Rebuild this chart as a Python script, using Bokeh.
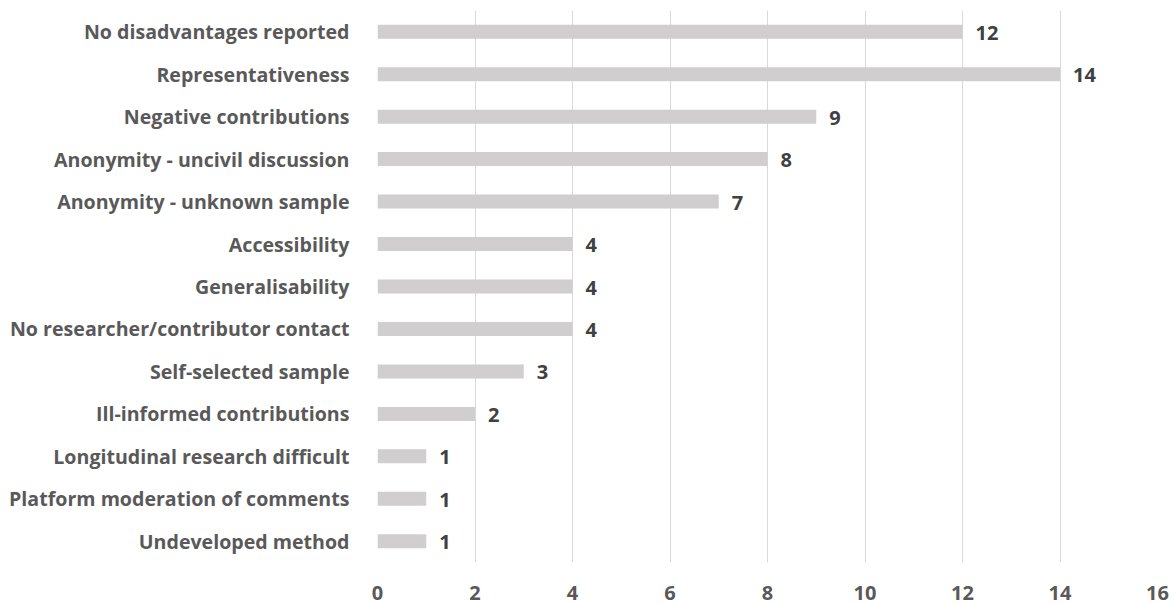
from bokeh.plotting import figure
from bokeh.models import ColumnDataSource, FactorRange, Range1d, FixedTicker, LabelSet
from bokeh.core.properties import value
from bokeh.embed import file_html
from bokeh.resources import INLINE

categories = [
    "No disadvantages reported",
    "Representativeness",
    "Negative contributions",
    "Anonymity - uncivil discussion",
    "Anonymity - unknown sample",
    "Accessibility",
    "Generalisability",
    "No researcher/contributor contact",
    "Self-selected sample",
    "Ill-informed contributions",
    "Longitudinal research difficult",
    "Platform moderation of comments",
    "Undeveloped method",
]
counts = [12, 14, 9, 8, 7, 4, 4, 4, 3, 2, 1, 1, 1]
x_ticks = [0, 2, 4, 6, 8, 10, 12, 14, 16]

FONT = "Open Sans"
LABEL_GREY = "#595959"
VALUE_GREY = "#404040"

source = ColumnDataSource(dict(
    cat=categories,
    count=counts,
    label=[str(c) for c in counts],
))

p = figure(
    width=1172, height=604,
    y_range=FactorRange(*reversed(categories), range_padding=0),
    x_range=Range1d(0, 16),
    output_backend="svg", toolbar_location=None,
    min_border_left=377, min_border_right=15,
    min_border_top=10, min_border_bottom=42,
)
p.outline_line_color = None
p.background_fill_color = "white"
p.border_fill_color = "white"

p.hbar(y="cat", right="count", left=0, height=0.33, source=source,
       fill_color="#d0cece", line_color=None)

labels = LabelSet(x="count", y="cat", text="label", source=source,
                  x_offset=13, y_offset=-1,
                  text_font=value(FONT), text_font_style="bold",
                  text_font_size="20px",
                  text_color=VALUE_GREY, text_baseline="middle")
p.add_layout(labels)

# x axis
p.xaxis.ticker = FixedTicker(ticks=x_ticks)
p.xaxis.axis_line_color = None
p.xaxis.major_tick_line_color = None
p.xaxis.minor_tick_line_color = None
p.xaxis.major_label_standoff = 17
p.xaxis.major_label_text_font = FONT
p.xaxis.major_label_text_font_style = "bold"
p.xaxis.major_label_text_font_size = "20px"
p.xaxis.major_label_text_color = LABEL_GREY

# y axis
p.yaxis.axis_line_color = None
p.yaxis.major_tick_line_color = None
p.yaxis.minor_tick_line_color = None
p.yaxis.major_label_standoff = 22
p.yaxis.major_label_text_font = FONT
p.yaxis.major_label_text_font_style = "bold"
p.yaxis.major_label_text_font_size = "19.6px"
p.yaxis.major_label_text_color = LABEL_GREY

p.xgrid.grid_line_color = "#d9d9d9"
p.ygrid.grid_line_color = None

open("out.html", "w").write(file_html(p, INLINE))
